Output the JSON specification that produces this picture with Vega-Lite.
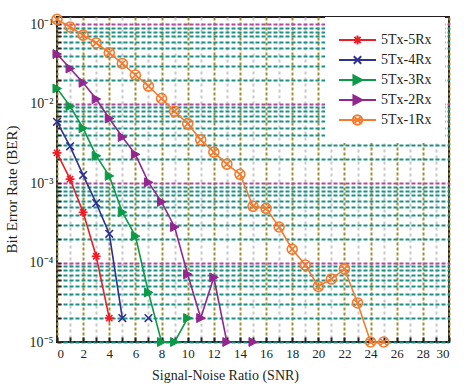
{
  "$schema": "https://vega.github.io/schema/vega-lite/v6.json",
  "autosize": {"type": "none"},
  "padding": {"left": 57, "top": 17, "right": 15, "bottom": 48},
  "width": 392,
  "height": 325,
  "background": "white",
  "config": {
    "view": {"stroke": "#231f20", "strokeWidth": 2},
    "axis": {
      "labelFont": "Liberation Serif",
      "labelFontSize": 13,
      "labelColor": "#231f20",
      "titleFont": "Liberation Serif",
      "titleFontSize": 14,
      "titleFontWeight": "normal",
      "titleColor": "#231f20",
      "domain": false,
      "tickColor": "#231f20"
    },
    "legend": {
      "labelFont": "Liberation Serif",
      "labelFontSize": 14,
      "labelColor": "#231f20"
    }
  },
  "data": {
    "values": [
      {"snr": 0, "ber": 0.0024, "series": "5Tx-5Rx"},
      {"snr": 1, "ber": 0.00112, "series": "5Tx-5Rx"},
      {"snr": 2, "ber": 0.00043, "series": "5Tx-5Rx"},
      {"snr": 3, "ber": 0.00012, "series": "5Tx-5Rx"},
      {"snr": 4, "ber": 0.00002, "series": "5Tx-5Rx"},
      {"snr": 0, "ber": 0.0059, "series": "5Tx-4Rx"},
      {"snr": 1, "ber": 0.0029, "series": "5Tx-4Rx"},
      {"snr": 2, "ber": 0.00126, "series": "5Tx-4Rx"},
      {"snr": 3, "ber": 0.00056, "series": "5Tx-4Rx"},
      {"snr": 4, "ber": 0.00023, "series": "5Tx-4Rx"},
      {"snr": 5, "ber": 0.00002, "series": "5Tx-4Rx"},
      {"snr": 6, "ber": null, "series": "5Tx-4Rx"},
      {"snr": 7, "ber": 0.00002, "series": "5Tx-4Rx"},
      {"snr": 0, "ber": 0.0155, "series": "5Tx-3Rx"},
      {"snr": 1, "ber": 0.0093, "series": "5Tx-3Rx"},
      {"snr": 2, "ber": 0.0049, "series": "5Tx-3Rx"},
      {"snr": 3, "ber": 0.0022, "series": "5Tx-3Rx"},
      {"snr": 4, "ber": 0.00123, "series": "5Tx-3Rx"},
      {"snr": 5, "ber": 0.00043, "series": "5Tx-3Rx"},
      {"snr": 6, "ber": 0.000215, "series": "5Tx-3Rx"},
      {"snr": 7, "ber": 0.000042, "series": "5Tx-3Rx"},
      {"snr": 8, "ber": 0.00001, "series": "5Tx-3Rx"},
      {"snr": 9, "ber": 0.00001, "series": "5Tx-3Rx"},
      {"snr": 10, "ber": 0.00002, "series": "5Tx-3Rx"},
      {"snr": 0, "ber": 0.042, "series": "5Tx-2Rx"},
      {"snr": 1, "ber": 0.0277, "series": "5Tx-2Rx"},
      {"snr": 2, "ber": 0.0183, "series": "5Tx-2Rx"},
      {"snr": 3, "ber": 0.0114, "series": "5Tx-2Rx"},
      {"snr": 4, "ber": 0.0065, "series": "5Tx-2Rx"},
      {"snr": 5, "ber": 0.0038, "series": "5Tx-2Rx"},
      {"snr": 6, "ber": 0.0023, "series": "5Tx-2Rx"},
      {"snr": 7, "ber": 0.00102, "series": "5Tx-2Rx"},
      {"snr": 8, "ber": 0.00058, "series": "5Tx-2Rx"},
      {"snr": 9, "ber": 0.00028, "series": "5Tx-2Rx"},
      {"snr": 10, "ber": 0.000071, "series": "5Tx-2Rx"},
      {"snr": 11, "ber": 0.00002, "series": "5Tx-2Rx"},
      {"snr": 12, "ber": 0.000065, "series": "5Tx-2Rx"},
      {"snr": 13, "ber": 0.00001, "series": "5Tx-2Rx"},
      {"snr": 14, "ber": null, "series": "5Tx-2Rx"},
      {"snr": 15, "ber": 0.00001, "series": "5Tx-2Rx"},
      {"snr": 0, "ber": 0.115, "series": "5Tx-1Rx"},
      {"snr": 1, "ber": 0.092, "series": "5Tx-1Rx"},
      {"snr": 2, "ber": 0.0727, "series": "5Tx-1Rx"},
      {"snr": 3, "ber": 0.058, "series": "5Tx-1Rx"},
      {"snr": 4, "ber": 0.0436, "series": "5Tx-1Rx"},
      {"snr": 5, "ber": 0.032, "series": "5Tx-1Rx"},
      {"snr": 6, "ber": 0.0229, "series": "5Tx-1Rx"},
      {"snr": 7, "ber": 0.0166, "series": "5Tx-1Rx"},
      {"snr": 8, "ber": 0.0116, "series": "5Tx-1Rx"},
      {"snr": 9, "ber": 0.008, "series": "5Tx-1Rx"},
      {"snr": 10, "ber": 0.0056, "series": "5Tx-1Rx"},
      {"snr": 11, "ber": 0.0035, "series": "5Tx-1Rx"},
      {"snr": 12, "ber": 0.00245, "series": "5Tx-1Rx"},
      {"snr": 13, "ber": 0.00173, "series": "5Tx-1Rx"},
      {"snr": 14, "ber": 0.00129, "series": "5Tx-1Rx"},
      {"snr": 15, "ber": 0.00051, "series": "5Tx-1Rx"},
      {"snr": 16, "ber": 0.00048, "series": "5Tx-1Rx"},
      {"snr": 17, "ber": 0.00028, "series": "5Tx-1Rx"},
      {"snr": 18, "ber": 0.000147, "series": "5Tx-1Rx"},
      {"snr": 19, "ber": 0.000093, "series": "5Tx-1Rx"},
      {"snr": 20, "ber": 0.00005, "series": "5Tx-1Rx"},
      {"snr": 21, "ber": 0.000062, "series": "5Tx-1Rx"},
      {"snr": 22, "ber": 0.000083, "series": "5Tx-1Rx"},
      {"snr": 23, "ber": 0.000031, "series": "5Tx-1Rx"},
      {"snr": 24, "ber": 0.00001, "series": "5Tx-1Rx"},
      {"snr": 25, "ber": 0.00001, "series": "5Tx-1Rx"}
    ]
  },
  "encoding": {
    "x": {
      "field": "snr",
      "type": "quantitative",
      "scale": {"domain": [0, 30], "nice": false, "zero": false},
      "axis": {
        "title": "Signal-Noise Ratio (SNR)",
        "values": [0,1,2,3,4,5,6,7,8,9,10,11,12,13,14,15,16,17,18,19,20,21,22,23,24,25,26,27,28,29,30],
        "labelExpr": "datum.value % 2 == 0 ? datum.label : ''",
        "grid": true,
        "gridColor": {"condition": {"test": "datum.value % 2 == 0", "value": "#9b9035"}, "value": "#c8c8c8"},
        "gridDash": {"condition": {"test": "datum.value % 2 == 0", "value": [3, 2]}, "value": [3, 3]},
        "gridWidth": 2,
        "tickSize": -5,
        "tickWidth": 2,
        "labelPadding": 10,
        "titlePadding": 8,
        "titleX": 168
      }
    },
    "y": {
      "field": "ber",
      "type": "quantitative",
      "scale": {"type": "log", "domain": [0.00001, 0.123], "nice": false},
      "axis": {
        "title": "Bit Error Rate (BER)",
        "titleFontSize": 15,
        "labelFontSize": 14,
        "values": [0.00001,0.00002,0.00003,0.00004,0.00005,0.00006,0.00007,0.00008,0.00009,0.0001,0.0002,0.0003,0.0004,0.0005,0.0006,0.0007,0.0008,0.0009,0.001,0.002,0.003,0.004,0.005,0.006,0.007,0.008,0.009,0.01,0.02,0.03,0.04,0.05,0.06,0.07,0.08,0.09,0.1],
        "labelExpr": "datum.value == 0.1 ? '10⁻¹' : datum.value == 0.01 ? '10⁻²' : datum.value == 0.001 ? '10⁻³' : datum.value == 0.0001 ? '10⁻⁴' : datum.value == 0.00001 ? '10⁻⁵' : ''",
        "grid": true,
        "gridColor": {"condition": {"test": "datum.value == 0.1 || datum.value == 0.01 || datum.value == 0.001 || datum.value == 0.0001", "value": "#b04aa0"}, "value": "#1a9184"},
        "gridDash": [4, 2],
        "gridWidth": 2,
        "tickSize": -4,
        "tickWidth": 1.5,
        "labelPadding": 8,
        "titlePadding": 10,
        "titleY": 172
      }
    }
  },
  "layer": [
    {
      "mark": {"type": "line", "strokeWidth": 1.6, "invalid": "break-paths-filter-domains"},
      "encoding": {
        "color": {
          "field": "series",
          "type": "nominal",
          "scale": {
            "domain": ["5Tx-5Rx", "5Tx-4Rx", "5Tx-3Rx", "5Tx-2Rx", "5Tx-1Rx"],
            "range": ["#ee1c25", "#2e3192", "#0c9a48", "#92278f", "#f47b30"]
          },
          "legend": {
            "title": null,
            "orient": "none",
            "legendX": 268,
            "legendY": 0,
            "padding": 13,
            "fillColor": "white",
            "symbolSize": 1369,
            "symbolStrokeWidth": 2,
            "clipHeight": 20,
            "rowPadding": 0,
            "labelOffset": 4,
            "encode": {
              "symbols": {
                "update": {
                  "shape": {"signal": "datum.value == '5Tx-5Rx' ? 'M-1,0L1,0M-0.24,0L0.24,0M0,-0.24L0,0.24M-0.17,-0.17L0.17,0.17M-0.17,0.17L0.17,-0.17' : datum.value == '5Tx-4Rx' ? 'M-1,0L1,0M-0.2,-0.2L0.2,0.2M-0.2,0.2L0.2,-0.2' : datum.value == '5Tx-1Rx' ? 'M-1,0L1,0M0.26,0A0.26,0.26 0 1,1 -0.26,0A0.26,0.26 0 1,1 0.26,0ZM-0.18,-0.18L0.18,0.18M-0.18,0.18L0.18,-0.18' : 'M-1,0L1,0M-0.22,-0.25L0.25,0L-0.22,0.25Z'"},
                  "fill": {"signal": "datum.value == '5Tx-3Rx' ? '#0c9a48' : datum.value == '5Tx-2Rx' ? '#92278f' : 'transparent'"}
                }
              }
            }
          }
        }
      }
    },
    {
      "transform": [{"filter": "datum.series == '5Tx-5Rx'"}],
      "mark": {"type": "point", "shape": "M-1,0L1,0M0,-1L0,1M-0.7,-0.7L0.7,0.7M-0.7,0.7L0.7,-0.7", "filled": false, "stroke": "#ee1c25", "strokeWidth": 1.6, "opacity": 1, "size": 80},
      "encoding": {}
    },
    {
      "transform": [{"filter": "datum.series == '5Tx-4Rx'"}],
      "mark": {"type": "point", "shape": "M-0.8,-0.8L0.8,0.8M-0.8,0.8L0.8,-0.8", "filled": false, "stroke": "#2e3192", "strokeWidth": 1.6, "opacity": 1, "size": 90},
      "encoding": {}
    },
    {
      "transform": [{"filter": "datum.series == '5Tx-3Rx'"}],
      "mark": {"type": "point", "shape": "M-0.9,-1L1,0L-0.9,1Z", "filled": true, "fill": "#0c9a48", "stroke": "#0c9a48", "strokeWidth": 1, "opacity": 1, "size": 80},
      "encoding": {}
    },
    {
      "transform": [{"filter": "datum.series == '5Tx-2Rx'"}],
      "mark": {"type": "point", "shape": "M-0.9,-1L1,0L-0.9,1Z", "filled": true, "fill": "#92278f", "stroke": "#92278f", "strokeWidth": 1, "opacity": 1, "size": 80},
      "encoding": {}
    },
    {
      "transform": [{"filter": "datum.series == '5Tx-1Rx'"}],
      "mark": {"type": "point", "shape": "M1,0A1,1 0 1,1 -1,0A1,1 0 1,1 1,0ZM-0.7,-0.7L0.7,0.7M-0.7,0.7L0.7,-0.7", "filled": false, "stroke": "#f47b30", "strokeWidth": 1.6, "opacity": 1, "size": 100},
      "encoding": {}
    }
  ]
}
